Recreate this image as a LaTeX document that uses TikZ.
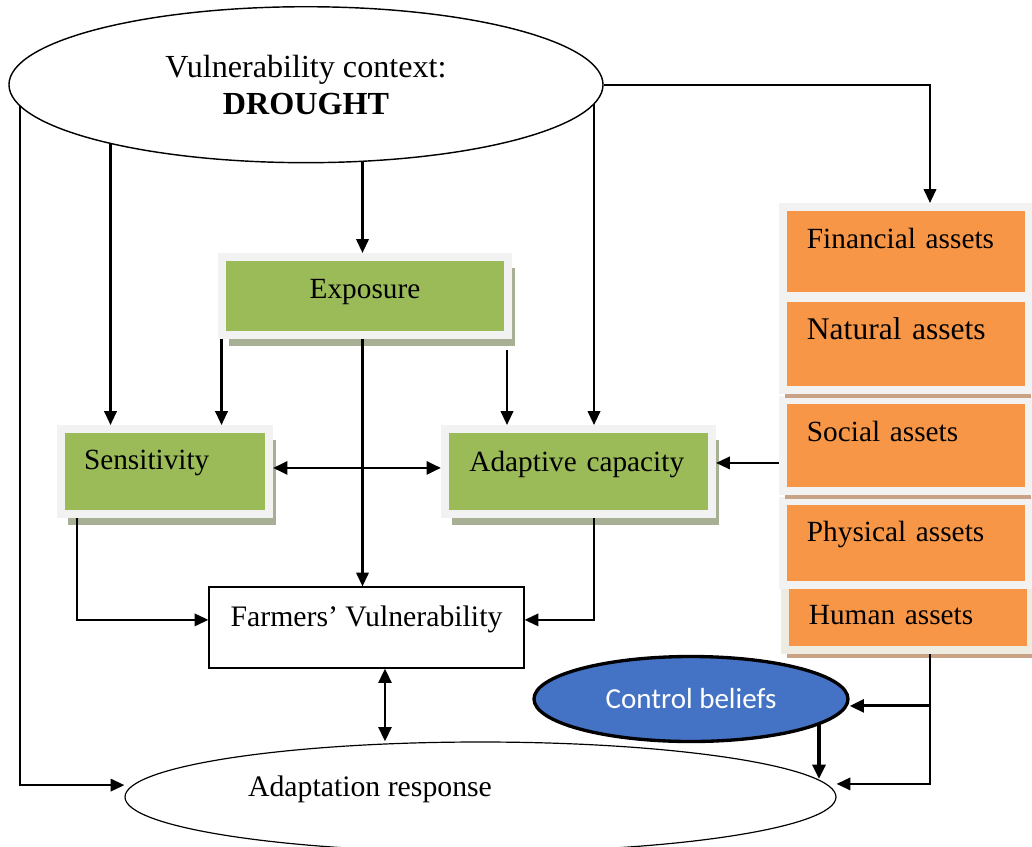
\documentclass[tikz,border=0pt]{standalone}
\usepackage{fontspec}
\setmainfont{Liberation Serif}
\newfontfamily\calibri{Carlito}
\usetikzlibrary{arrows.meta,shapes.geometric,shadows,backgrounds}
\definecolor{VGreen}{HTML}{9BBB59}
\definecolor{VOrange}{HTML}{F79646}
\definecolor{VBlue}{HTML}{4472C4}
\definecolor{VFrame}{HTML}{F2F2F2}
\definecolor{VShade}{HTML}{A7AF95}
\definecolor{VTan}{HTML}{C9A285}
\definecolor{VBeige}{HTML}{EEECE1}

\begin{document}
\begin{tikzpicture}[x=0.42pt, y=-0.42pt,
    every node/.style={font=\fontsize{12.3}{14.8}\selectfont},
    link/.style={line width=0.95pt, -{Triangle[width=5.2pt,length=5.8pt]}},
    boldlink/.style={line width=1.3pt, -{Triangle[width=5.4pt,length=6pt]}},
    twoway/.style={line width=1.2pt, {Triangle[width=5.4pt,length=6pt]}-{Triangle[width=5.4pt,length=6pt]}},
    greenbox/.style={fill=VGreen, draw=VFrame, line width=3.36pt, text height=9pt,
        drop shadow={shadow xshift=2.9pt, shadow yshift=-4.8pt, fill=VShade, opacity=1, draw=none}},
    assetbox/.style={fill=VOrange, draw=VFrame, line width=3.36pt, minimum width=103.3pt,
        text width=83.2pt, inner xsep=10.1pt, align=left, text height=9pt},
    tanshadow/.style={drop shadow={shadow xshift=0.8pt, shadow yshift=-3.4pt, fill=VTan, opacity=1, draw=none}}]
\useasboundingbox (0,0) rectangle (1032,847);

\node[ellipse, draw, fill=white, line width=0.6pt, minimum width=249.5pt, minimum height=65.5pt, inner sep=0pt,
    align=center, font=\fontsize{13.5}{15.5}\selectfont] (ctx) at (306,84.7) {Vulnerability context:\\\textbf{DROUGHT}};

\node[greenbox, minimum width=120.1pt, minimum height=32.8pt, text depth=6.8pt] (exp) at (365,296) {Exposure};
\node[greenbox, minimum width=87.4pt, minimum height=35.7pt, text width=68pt, inner xsep=9.7pt, align=left,
    text depth=10.6pt] (sens) at (165,471.5) {Sensitivity};
\node[greenbox, minimum width=112.1pt, minimum height=35.7pt, text width=91.6pt, inner xsep=10.3pt, align=left,
    text depth=9pt] (adcap) at (578.5,471.5) {Adaptive capacity};

\node[assetbox, draw=VBeige, tanshadow, minimum height=27.3pt, text depth=3pt] (hum) at (908,617.5) {Human assets};
\node[assetbox, minimum height=35.3pt, text depth=10.2pt] (phy) at (906,543) {Physical assets};
\node[assetbox, tanshadow, minimum height=38.2pt, text depth=12.4pt] (soc) at (906,445.5) {Social assets};
\node[assetbox, tanshadow, minimum height=38.6pt, text depth=12.8pt, font=\fontsize{13.25}{16}\selectfont] (nat) at (906,344) {Natural assets};
\node[assetbox, minimum height=37.4pt, text depth=11.5pt] (fin) at (906,251.5) {Financial assets};

\node[draw, fill=white, line width=0.5pt, minimum width=132.3pt, minimum height=34pt, text height=9pt, text depth=9.8pt,
    font=\fontsize{12.5}{15}\selectfont] (fv) at (366.5,627.5) {Farmers’ Vulnerability};
\node[ellipse, draw, fill=white, line width=0.5pt, minimum width=298.6pt, minimum height=46.2pt, inner sep=0pt,
    text height=9pt, text depth=9.4pt, font=\fontsize{12.5}{15}\selectfont] (resp) at (480.5,797) {Adaptation response\kern92.8pt};
\node[ellipse, draw, fill=VBlue, line width=1.4pt, minimum width=131.9pt, minimum height=35.7pt, inner sep=0pt,
    text=white, font=\calibri\fontsize{12.2}{14}\selectfont] (cb) at (691,699) {Control beliefs};

\coordinate (xl) at (20,0);
\coordinate (xf) at (77,0);
\coordinate (xs) at (110.5,0);
\coordinate (xe) at (221.5,0);
\coordinate (xm) at (362.5,0);
\coordinate (xv) at (385,0);
\coordinate (xa) at (507,0);
\coordinate (xc) at (594,0);
\coordinate (xr) at (930,0);
\coordinate (cbd) at (819,779);
\coordinate (ain) at ([yshift=3.6pt]adcap.east);
\coordinate (fvl) at ([yshift=3.2pt]fv.west);
\coordinate (fvr) at ([yshift=3.2pt]fv.east);
\coordinate (rin) at ([yshift=5pt]resp.west);
\coordinate (rout) at ([yshift=5.5pt]resp.east);
\coordinate (cbin) at ([yshift=-2.9pt]cb.east);

\begin{scope}[on background layer]
  \draw[link] (ctx.center -| xl) |- (rin);
  \draw[link] (ctx.center -| xs) -- (sens.north -| xs);
  \draw[link] (ctx.center -| xm) -- (exp.north -| xm);
  \draw[link] (ctx.center -| xc) -- (adcap.north -| xc);
  \draw[boldlink] (cb.center -| cbd) -- (cbd);
\end{scope}

\draw[link] (ctx.east) -| (fin.north -| xr);
\draw[link] (exp.south -| xe) -- (sens.north -| xe);
\draw[link] (exp.south -| xm) -- (fv.north -| xm);
\draw[link, shorten <=4.8pt] (exp.south -| xa) -- (adcap.north -| xa);
\draw[twoway] ([yshift=1.5pt]sens.east) -- ([yshift=1.5pt]adcap.west);
\draw[link] (soc.west |- ain) -- (ain);
\draw[link] (sens.south -| xf) |- (fvl);
\draw[link] (adcap.south -| xc) |- (fvr);
\draw[twoway] (fv.south -| xv) -- (resp.north -| xv);
\draw[link] (hum.south -| xr) |- (rout);
\draw[boldlink] (cbin -| xr) -- (cbin);
\end{tikzpicture}
\end{document}
